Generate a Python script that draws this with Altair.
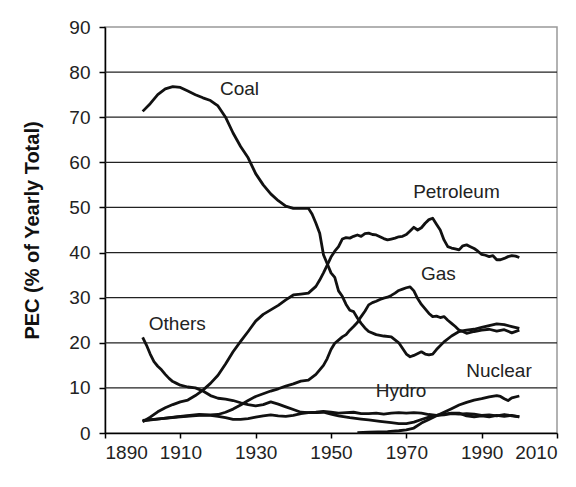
import altair as alt
import pandas as pd

coal_years = [1900, 1902, 1904, 1906, 1908, 1910, 1912, 1914, 1916, 1918, 1920, 1922, 1924, 1926, 1928,
              1930, 1932, 1934, 1936, 1938, 1940, 1942, 1944, 1945, 1946, 1947, 1948, 1949, 1950, 1951,
              1952, 1953, 1954, 1955, 1956, 1957, 1958, 1959, 1960, 1962, 1964, 1966, 1968, 1970, 1971,
              1972, 1974, 1975, 1976, 1977, 1978, 1980, 1982, 1984, 1986, 1988, 1990, 1992, 1994, 1996,
              1998, 2000]
coal_vals = [71.3, 73.0, 75.0, 76.3, 76.8, 76.6, 75.8, 75.0, 74.3, 73.7, 72.5, 70.0, 66.5, 63.5, 61.0,
             57.5, 55.0, 53.0, 51.5, 50.3, 49.8, 49.8, 49.8, 48.5, 46.5, 44.3, 39.5, 37.5, 35.5, 34.5,
             31.5, 30.3, 28.5, 27.2, 26.9, 25.5, 24.3, 23.3, 22.5, 21.8, 21.5, 21.3, 20.0, 17.5, 16.9,
             17.2, 18.0, 17.5, 17.3, 17.5, 18.5, 20.2, 21.5, 22.5, 22.8, 23.0, 23.4, 23.8, 24.2, 24.0,
             23.6, 23.2]

pet_years = [1900, 1902, 1904, 1906, 1908, 1910, 1912, 1914, 1916, 1918, 1920, 1922, 1924, 1926, 1928,
             1930, 1932, 1934, 1936, 1938, 1940, 1942, 1944, 1946, 1947, 1948, 1949, 1950, 1951, 1952,
             1953, 1954, 1955, 1956, 1957, 1958, 1959, 1960, 1961, 1962, 1963, 1964, 1965, 1966, 1967,
             1968, 1969, 1970, 1971, 1972, 1973, 1974, 1975, 1976, 1977, 1978, 1979, 1980, 1981, 1982,
             1983, 1984, 1985, 1986, 1987, 1988, 1989, 1990, 1991, 1992, 1993, 1994, 1995, 1996, 1997,
             1998, 1999, 2000]
pet_vals = [2.5, 3.5, 4.7, 5.6, 6.3, 6.9, 7.3, 8.3, 9.5, 11.0, 12.8, 15.3, 18.0, 20.3, 22.5,
            24.8, 26.3, 27.3, 28.3, 29.5, 30.6, 30.8, 31.0, 32.5, 33.9, 35.5, 37.2, 39.0, 40.3, 41.3,
            43.0, 43.3, 43.2, 43.6, 43.9, 43.6, 44.2, 44.3, 44.0, 43.9, 43.5, 43.1, 42.8, 43.0, 43.2,
            43.5, 43.6, 44.0, 44.8, 45.6, 45.0, 45.5, 46.5, 47.3, 47.6, 46.3, 45.0, 42.8, 41.3, 41.0,
            40.8, 40.6, 41.5, 41.7, 41.3, 40.9, 40.3, 39.6, 39.4, 39.1, 39.3, 38.4, 38.4, 38.7, 39.1,
            39.3, 39.2, 38.9]

gas_years = [1900, 1905, 1910, 1915, 1918, 1920, 1922, 1924, 1926, 1928, 1930, 1932, 1934, 1936, 1938,
             1940, 1942, 1944, 1946, 1947, 1948, 1949, 1950, 1951, 1952, 1953, 1954, 1955, 1956, 1957,
             1958, 1959, 1960, 1961, 1962, 1963, 1964, 1965, 1966, 1967, 1968, 1969, 1970, 1971, 1972,
             1973, 1974, 1975, 1976, 1977, 1978, 1979, 1980, 1981, 1982, 1983, 1984, 1985, 1986, 1988,
             1990, 1992, 1994, 1996, 1998, 2000]
gas_vals = [2.7, 3.2, 3.7, 4.1, 4.0, 4.1, 4.6, 5.3, 6.2, 7.2, 8.1, 8.7, 9.3, 9.8, 10.4,
            10.9, 11.5, 11.7, 13.0, 14.0, 15.0, 16.5, 18.5, 19.9, 20.6, 21.3, 21.8, 22.8, 23.6, 24.5,
            25.8, 27.0, 28.4, 28.9, 29.2, 29.6, 29.9, 30.1, 30.5, 31.0, 31.6, 31.9, 32.2, 32.4, 31.5,
            29.8, 28.5, 27.5, 26.5, 25.8, 25.9, 25.6, 25.8, 25.0, 24.3, 23.6, 22.8, 22.5, 22.1, 22.5,
            22.8, 23.0, 22.6, 22.9, 22.2, 22.8]

oth_years = [1900, 1901, 1902, 1903, 1904, 1905, 1906, 1907, 1908, 1909, 1910, 1912, 1914, 1916, 1918,
             1920, 1922, 1924, 1926, 1928, 1930, 1932, 1934, 1936, 1938, 1940, 1942, 1944, 1946, 1948,
             1950, 1952, 1955, 1958, 1960, 1963, 1966, 1968, 1970, 1972, 1974, 1976, 1978, 1980, 1982,
             1984, 1986, 1988, 1990, 1992, 1994, 1996, 1998, 2000]
oth_vals = [21.2, 19.5, 17.5, 15.8, 14.8, 14.0, 13.0, 12.1, 11.4, 11.0, 10.6, 10.2, 10.0, 9.3, 8.3,
            7.7, 7.5, 7.2, 6.7, 6.3, 6.0, 6.3, 6.9, 6.4, 5.8, 5.2, 4.6, 4.5, 4.5, 4.6,
            4.2, 3.8, 3.4, 3.1, 2.9, 2.6, 2.3, 2.1, 2.1, 2.4, 3.0, 3.5, 3.9, 4.2, 4.4,
            4.4, 3.8, 3.6, 3.8, 3.6, 3.9, 3.7, 3.9, 3.6]

hyd_years = [1900, 1905, 1910, 1915, 1918, 1920, 1922, 1924, 1926, 1928, 1930, 1932, 1934, 1936, 1938,
             1940, 1942, 1944, 1946, 1948, 1950, 1952, 1954, 1956, 1958, 1960, 1962, 1964, 1966, 1968,
             1970, 1972, 1974, 1976, 1978, 1980, 1982, 1984, 1986, 1988, 1990, 1992, 1994, 1996, 1998,
             2000]
hyd_vals = [2.8, 3.2, 3.6, 3.9, 3.9, 3.7, 3.4, 3.0, 3.0, 3.2, 3.5, 3.8, 4.0, 3.8, 3.7,
            3.9, 4.3, 4.5, 4.6, 4.8, 4.6, 4.4, 4.5, 4.6, 4.3, 4.3, 4.4, 4.2, 4.4, 4.5,
            4.4, 4.5, 4.4, 4.1, 3.9, 4.0, 4.3, 4.2, 4.3, 4.2, 3.9, 4.0, 3.8, 4.1, 3.8,
            3.6]

nuc_years = [1957, 1960, 1965, 1968, 1970, 1972, 1974, 1976, 1978, 1980, 1982, 1984, 1986, 1988, 1990,
             1992, 1994, 1995, 1996, 1997, 1998, 2000]
nuc_vals = [0.1, 0.2, 0.3, 0.5, 0.7, 1.1, 2.2, 3.0, 3.8, 4.6, 5.4, 6.2, 6.8, 7.3, 7.6,
            8.0, 8.3, 8.1, 7.6, 7.2, 7.8, 8.2]

label_text = ["Coal", "Petroleum", "Gas", "Others", "Nuclear", "Hydro"]
label_year = [1925.7, 1983.3, 1978.5, 1909.2, 1994.6, 1968.6]
label_value = [74.9, 52.0, 33.9, 22.8, 12.5, 7.9]

grid_values = [10, 20, 30, 40, 50, 60, 70, 80]

series = [("Coal", coal_years, coal_vals), ("Petroleum", pet_years, pet_vals),
          ("Gas", gas_years, gas_vals), ("Others", oth_years, oth_vals),
          ("Hydro", hyd_years, hyd_vals), ("Nuclear", nuc_years, nuc_vals)]
rows = []
for name, ys, vs in series:
    for y, v in zip(ys, vs):
        rows.append({"source": name, "year": y, "value": v})
df = pd.DataFrame(rows)
labels = pd.DataFrame({"text": label_text, "year": label_year, "value": label_value})
grid = pd.DataFrame({"value": grid_values})

FONT = "Liberation Sans"
xscale = alt.Scale(domain=[1890, 2010], nice=False, zero=False)
yscale = alt.Scale(domain=[0, 90], nice=False)

gridlayer = alt.Chart(grid).mark_rule(color="#222222", strokeWidth=1.2).encode(
    y=alt.Y("value:Q", scale=yscale)
)

lines = alt.Chart(df).mark_line(color="#111111", strokeWidth=2.8, strokeJoin="round").encode(
    x=alt.X("year:Q", scale=xscale,
            axis=alt.Axis(values=[1890, 1910, 1930, 1950, 1970, 1990, 2010], format="d",
                          title=None, grid=False, tickSize=5, labelPadding=5,
                          domainColor="#000000", tickColor="#000000", labelColor="#222222",
                          labelFont=FONT, labelFontSize=19, domainWidth=1.5, tickWidth=1.5)),
    y=alt.Y("value:Q", scale=yscale,
            axis=alt.Axis(values=list(range(0, 91, 10)), title="PEC (% of Yearly Total)",
                          grid=False, tickSize=6, labelPadding=9,
                          domainColor="#000000", tickColor="#000000", labelColor="#222222",
                          labelFont=FONT, labelFontSize=19, domainWidth=1.5, tickWidth=1.5,
                          titleFont=FONT, titleFontSize=20, titleFontWeight="bold",
                          titleColor="#111111", titlePadding=26)),
    detail="source:N",
    order="year:Q",
)

texts = alt.Chart(labels).mark_text(font=FONT, fontSize=19, color="#222222",
                                    align="center", baseline="alphabetic").encode(
    x=alt.X("year:Q", scale=xscale),
    y=alt.Y("value:Q", scale=yscale),
    text="text:N",
)

chart = alt.layer(gridlayer, lines, texts).properties(
    width=452, height=406,
    autosize=alt.AutoSizeParams(type="none"),
    padding={"left": 97, "top": 19, "right": 11, "bottom": 46},
    background="white",
).configure_view(stroke="#999999", strokeWidth=1.5)

chart.save("out.html", embed_options={"renderer": "svg", "actions": False})
